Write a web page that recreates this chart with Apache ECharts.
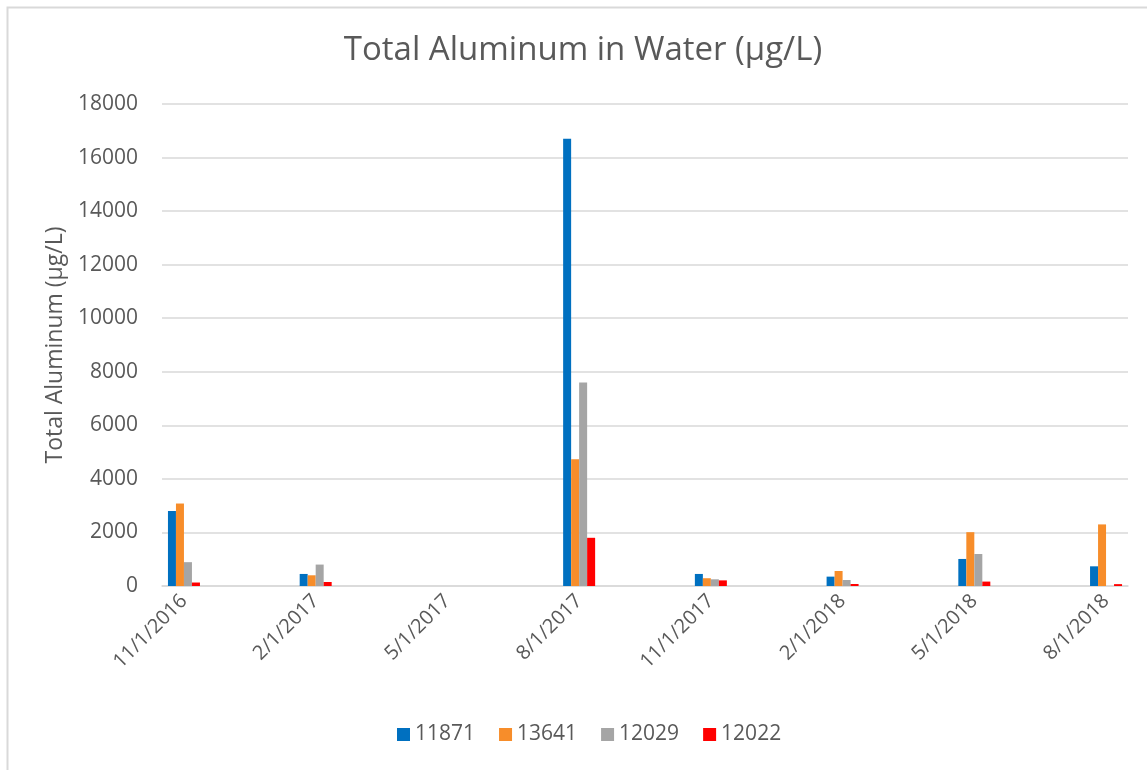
<!DOCTYPE html>
<html>
<head>
<meta charset="utf-8">
<script src="https://cdn.jsdelivr.net/npm/echarts@6/dist/echarts.min.js"></script>
<style>html,body{margin:0;padding:0;background:#fff;}#c{width:1147px;height:770px;}</style>
</head>
<body>
<div id="c"></div>
<script>
// Axis months (Excel date axis, monthly base unit)
const startYear = 2016, startMonth = 11, monthCount = 22;
// Sample dates and values
const sampleDates = ['11/1/2016','2/1/2017','8/1/2017','11/1/2017','2/1/2018','5/1/2018','8/1/2018'];
const seriesNames = ['11871','13641','12029','12022'];
const v11871 = [2800, 450, 16700, 450, 350, 1010, 735];
const v13641 = [3080, 400, 4730, 290, 560, 2010, 2300];
const v12029 = [890, 800, 7600, 250, 225, 1195, null];
const v12022 = [130, 150, 1800, 210, 75, 165, 70];
const colors = ['#0070C0', '#F78D2A', '#A5A5A5', '#FF0000'];
const yTicks = [0, 2000, 4000, 6000, 8000, 10000, 12000, 14000, 16000, 18000];

const months = [];
for (let i = 0; i < monthCount; i++) {
  const m0 = startMonth - 1 + i;
  const y = startYear + Math.floor(m0 / 12);
  const m = (m0 % 12) + 1;
  months.push(m + '/1/' + y);
}
function toMonthly(vals) {
  const out = months.map(() => null);
  sampleDates.forEach((d, i) => { const k = months.indexOf(d); if (k >= 0) out[k] = vals[i]; });
  return out;
}
const allVals = [v11871, v13641, v12029, v12022];

const font = '"Open Sans", "Noto Sans", sans-serif';
const chart = echarts.init(document.getElementById('c'), null, {renderer: 'canvas'});
chart.setOption({
  animation: false,
  backgroundColor: '#ffffff',
  color: colors,
  graphic: [{
    type: 'rect', left: 5, top: 5, silent: true, z: -10,
    shape: {x: 0, y: 0, width: 1300, height: 900},
    style: {fill: 'none', stroke: '#d9d9d9', lineWidth: 2}
  }],
  title: {
    text: 'Total Aluminum in Water (µg/L)',
    left: 578, top: 29, textAlign: 'center',
    textStyle: {fontFamily: font, fontSize: 33, fontWeight: 'normal', color: '#595959'}
  },
  legend: {
    bottom: 20, left: 392,
    itemWidth: 13, itemHeight: 13, itemGap: 24, icon: 'rect',
    textStyle: {fontFamily: font, fontSize: 21, color: '#595959'},
    data: seriesNames
  },
  grid: {left: 162, right: 19, top: 104, bottom: 184, containLabel: false},
  xAxis: {
    type: 'category',
    data: months,
    axisLine: {show: true, lineStyle: {color: '#d9d9d9', width: 1.5}},
    axisTick: {show: false},
    axisLabel: {interval: 2, rotate: 45, margin: 12, fontFamily: font, fontSize: 20, color: '#595959'}
  },
  yAxis: {
    type: 'value', min: 0, max: 18000, interval: 2000,
    name: 'Total Aluminum (µg/L)', nameLocation: 'middle', nameGap: 93,
    nameTextStyle: {fontFamily: font, fontSize: 23, color: '#595959'},
    axisLine: {show: false}, axisTick: {show: false},
    axisLabel: {margin: 24, fontFamily: font, fontSize: 21, color: '#595959',
      formatter: v => yTicks.includes(v) ? String(v) : ''},
    splitLine: {lineStyle: {color: '#d9d9d9', width: 1.5}}
  },
  series: seriesNames.map((n, i) => ({
    name: n, type: 'bar', data: toMonthly(allVals[i]),
    barWidth: 8, barGap: '0%'
  }))
});
</script>
</body>
</html>
